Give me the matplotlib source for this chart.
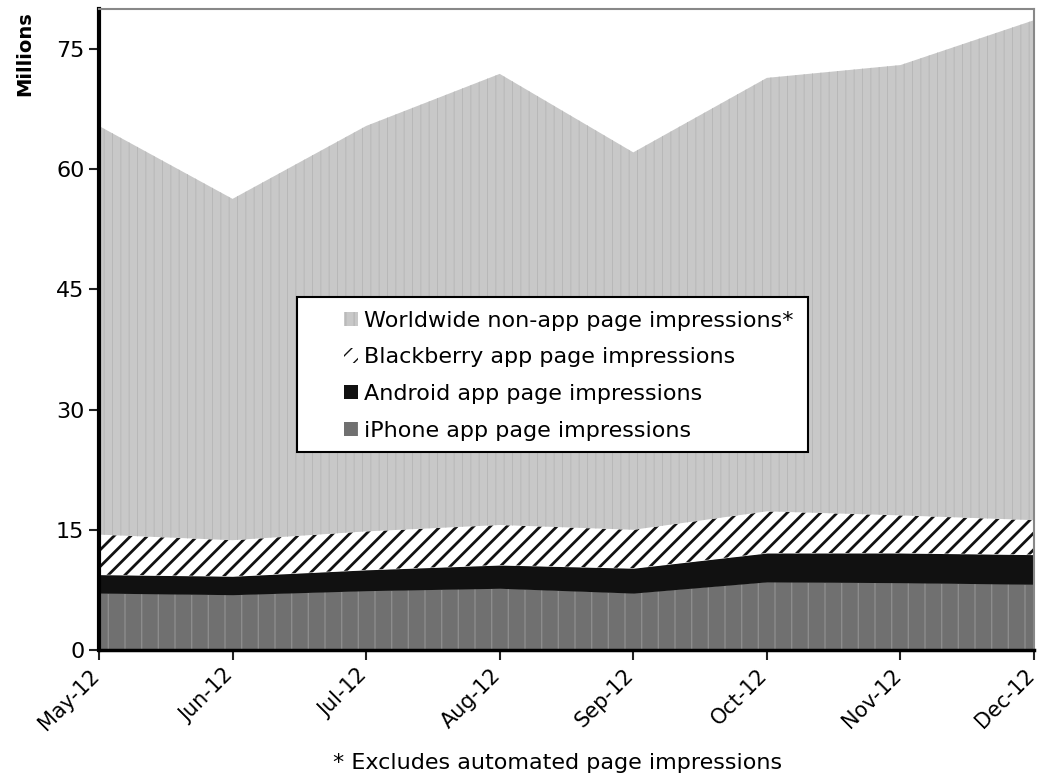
import matplotlib as mpl

mpl.use('Agg')
import matplotlib.pyplot as plt
import matplotlib.transforms as mtransforms
import numpy as np
from matplotlib.patches import Rectangle

# values (millions of page impressions)
months = ['May-12', 'Jun-12', 'Jul-12', 'Aug-12', 'Sep-12', 'Oct-12', 'Nov-12', 'Dec-12']
iphone = [7.1, 6.9, 7.4, 7.7, 7.1, 8.5, 8.4, 8.2]
android = [2.3, 2.3, 2.6, 2.9, 3.1, 3.6, 3.7, 3.7]
blackberry = [5.0, 4.5, 4.8, 5.0, 4.8, 5.2, 4.7, 4.3]
worldwide = [51.0, 42.6, 50.6, 56.3, 47.1, 54.1, 56.2, 62.4]

labels = ['iPhone app page impressions', 'Android app page impressions',
          'Blackberry app page impressions', 'Worldwide non-app page impressions*']
faces = ['#707070', '#111111', 'white', '#c8c8c8']
hatches = ['|', None, '//', '||']
hatch_cols = ['#8c8c8c', '#111111', '#111111', '#b8b8b8']
hatch_lws = [1.0, 1.0, 2.0, 0.7]

plt.rcParams['font.size'] = 16

fig = plt.figure(figsize=(10.43, 7.8), dpi=100)
ax = fig.add_axes([0.0949, 0.1667, 0.8965, 0.8218])

x = np.arange(len(months))
series = [iphone, android, blackberry, worldwide]
base = np.zeros(len(months))
for vals, lab, fc, h, hc, hlw in zip(series, labels, faces, hatches, hatch_cols, hatch_lws):
    top = base + np.array(vals)
    with plt.rc_context({'hatch.linewidth': hlw}):
        ax.fill_between(x, base, top, facecolor=fc, edgecolor=hc, hatch=h,
                        linewidth=0, label=lab)
    base = top

ax.set_xlim(0, len(months) - 1)
ax.set_ylim(0, 80)
ax.set_yticks([0, 15, 30, 45, 60, 75])
ax.set_xticks(x)
ax.set_xticklabels(months, rotation=45, ha='right', rotation_mode='anchor', fontsize=15)
ax.tick_params(axis='both', length=7, width=1.5, color='#222222')
ax.tick_params(axis='x', pad=4)

# nudge the rotated month labels a little left so the last one stays inside
shift = mtransforms.ScaledTranslation(-7 / 72, 0, fig.dpi_scale_trans)
for lbl in ax.get_xticklabels():
    lbl.set_transform(lbl.get_transform() + shift)

ax.spines['left'].set_linewidth(3)
ax.spines['bottom'].set_linewidth(2.5)
ax.spines['top'].set_color('#888888')
ax.spines['right'].set_color('#888888')
ax.spines['top'].set_linewidth(1.5)
ax.spines['right'].set_linewidth(1.5)

# legend box drawn by hand, entries placed inside
ax.add_patch(Rectangle((0.2118, 0.309), 0.546, 0.242, transform=ax.transAxes,
                       facecolor='white', edgecolor='black', linewidth=1.5, zorder=5))
h, l = ax.get_legend_handles_labels()
leg = fig.legend(h[::-1], l[::-1], loc='upper left', bbox_to_anchor=(0.3195, 0.616),
                 frameon=False, borderpad=0, handlelength=0.6, handleheight=0.6,
                 handletextpad=0.3, labelspacing=0.75, fontsize=16)
leg.set_zorder(6)

fig.text(0.024, 0.985, 'Millions', rotation=90, ha='center', va='top',
         fontsize=14, fontweight='bold')
fig.text(0.535, 0.022, '* Excludes automated page impressions', ha='center',
         va='center', fontsize=16)

plt.savefig('out.png', dpi=100)
